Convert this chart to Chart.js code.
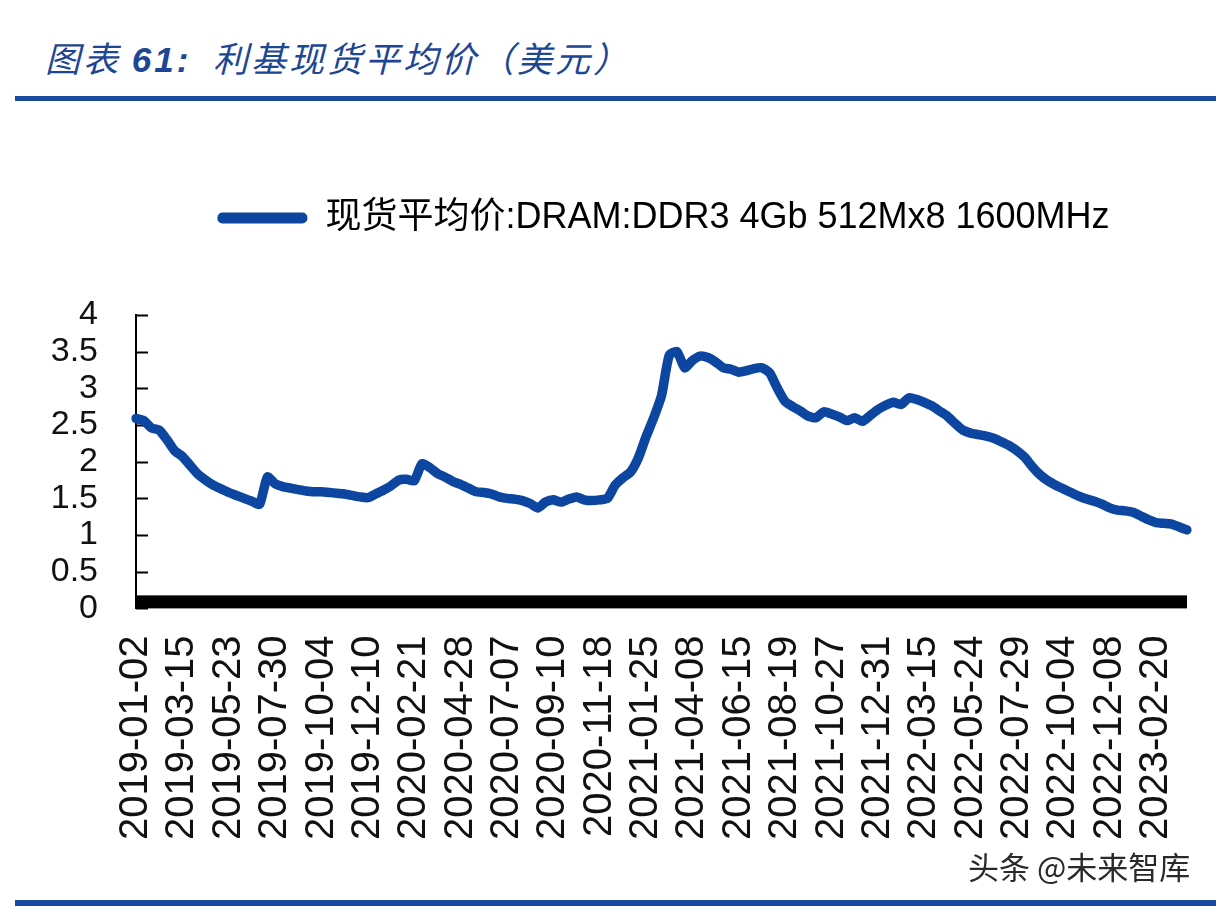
<!DOCTYPE html>
<html>
<head>
<meta charset="utf-8">
<script src="https://cdn.jsdelivr.net/npm/chart.js@4"></script>
<style>
  html, body { margin: 0; padding: 0; background: #fff; }
  body { width: 1216px; height: 906px; overflow: hidden; position: relative; }
  #title { position: absolute; left: 45px; top: 31px; font-family: "Noto Sans CJK SC", sans-serif; font-style: italic; font-size: 35px; letter-spacing: 3px; color: #1d4694; white-space: nowrap; }
  #title b { font-family: "Liberation Sans", sans-serif; }
  .rule { position: absolute; left: 15px; width: 1201px; background: #1a4a9c; }
  #watermark { position: absolute; left: 968px; top: 843px; font-family: "Noto Sans CJK SC", sans-serif; font-size: 31px; color: #2a2a2a; white-space: nowrap; }
  #wrap { position: absolute; left: 0; top: 190px; }
</style>
</head>
<body>
<div id="title">图表 <b>61:</b>&nbsp; 利基现货平均价（美元）</div>
<div class="rule" style="top:96px;height:5px"></div>
<div id="wrap"><canvas id="dramChart" width="1326" height="669"></canvas></div>
<div id="watermark">头条 @未来智库</div>
<div class="rule" style="top:900px;height:6px"></div>
<script>
// tick labels shown on the x axis, one every 6 points
var tickDates = ['2019-01-02', '2019-03-15', '2019-05-23', '2019-07-30', '2019-10-04', '2019-12-10',
  '2020-02-21', '2020-04-28', '2020-07-07', '2020-09-10', '2020-11-18', '2021-01-25',
  '2021-04-08', '2021-06-15', '2021-08-19', '2021-10-27', '2021-12-31', '2022-03-15',
  '2022-05-24', '2022-07-29', '2022-10-04', '2022-12-08', '2023-02-20']
var pointsPerTick = 6
var yTicks = [0, 0.5, 1, 1.5, 2, 2.5, 3, 3.5, 4]

// 现货平均价:DRAM:DDR3 4Gb 512Mx8 1600MHz (USD)
var spotPrice = [
  2.59, 2.56, 2.46, 2.43, 2.30, 2.15, 2.07, 1.95, 1.83, 1.75,
  1.68, 1.63, 1.58, 1.54, 1.50, 1.46, 1.42, 1.79, 1.70, 1.66,
  1.64, 1.62, 1.60, 1.59, 1.59, 1.58, 1.57, 1.56, 1.54, 1.52,
  1.51, 1.56, 1.61, 1.67, 1.75, 1.76, 1.74, 1.97, 1.92, 1.84,
  1.79, 1.73, 1.69, 1.64, 1.59, 1.58, 1.56, 1.52, 1.50, 1.49,
  1.47, 1.43, 1.37, 1.45, 1.48, 1.45, 1.49, 1.52, 1.48, 1.47,
  1.48, 1.50, 1.68, 1.78, 1.86, 2.05, 2.34, 2.60, 2.90, 3.45,
  3.50, 3.28, 3.38, 3.44, 3.42, 3.36, 3.28, 3.26, 3.22, 3.24,
  3.27, 3.28, 3.21, 3.00, 2.82, 2.75, 2.69, 2.62, 2.60, 2.68,
  2.65, 2.61, 2.56, 2.60, 2.55, 2.63, 2.71, 2.77, 2.81, 2.78,
  2.87, 2.85, 2.81, 2.76, 2.69, 2.62, 2.52, 2.43, 2.39, 2.37,
  2.35, 2.32, 2.27, 2.22, 2.15, 2.06, 1.93, 1.82, 1.74, 1.68,
  1.63, 1.58, 1.53, 1.49, 1.46, 1.42, 1.37, 1.34, 1.33, 1.31,
  1.26, 1.21, 1.17, 1.16, 1.15, 1.11, 1.07
]
var seriesName = '现货平均价:DRAM:DDR3 4Gb 512Mx8 1600MHz'
var lineColor = '#0c46a0'

var labels = spotPrice.map(function (v, i) {
  return i % pointsPerTick === 0 ? (tickDates[i / pointsPerTick] || '') : ''
})

// thick black bar on the zero line and short inward ticks on the y axis
var axisDecor = {
  id: 'axisDecor',
  beforeDatasetsDraw: function (chart) {
    var ctx = chart.ctx, x = chart.scales.x, y = chart.scales.y
    var y0 = y.getPixelForValue(0)
    ctx.save()
    ctx.fillStyle = '#000'
    ctx.fillRect(x.left - 1, y0 - 13, x.right - x.left + 1, 13)
    ctx.strokeStyle = '#000'
    ctx.lineWidth = 2
    y.ticks.forEach(function (t) {
      var py = Math.round(y.getPixelForValue(t.value)) + 0.5
      ctx.beginPath()
      ctx.moveTo(x.left, py)
      ctx.lineTo(x.left + 12, py)
      ctx.stroke()
    })
    ctx.restore()
  }
}

// extra room under the legend, and the legend centred over the plot
var legendGap = {
  id: 'legendGap',
  beforeInit: function (chart) {
    var fit = chart.legend.fit
    chart.legend.fit = function () {
      fit.bind(chart.legend)()
      this.height += 69
    }
  },
  afterLayout: function (chart) {
    chart.legend.left += 70
    chart.legend.right += 70
  }
}

new Chart(document.getElementById('dramChart'), {
  type: 'line',
  data: {
    labels: labels,
    datasets: [{
      label: seriesName,
      data: spotPrice,
      borderColor: lineColor,
      backgroundColor: lineColor,
      borderWidth: 9.5,
      pointRadius: 0,
      tension: 0.2,
      borderJoinStyle: 'round',
      borderCapStyle: 'round'
    }]
  },
  options: {
    responsive: false,
    animation: false,
    layout: { padding: { left: 0, right: 139, top: 0, bottom: 0 } },
    plugins: {
      tooltip: { enabled: false },
      legend: {
        position: 'top',
        labels: {
          boxWidth: 90,
          boxHeight: 11,
          padding: 10,
          color: '#1a1a1a',
          font: { size: 36, family: '"Liberation Sans", "Noto Sans CJK SC", sans-serif' },
          useBorderRadius: true,
          borderRadius: 5,
          generateLabels: function (chart) {
            return [{
              text: seriesName,
              fillStyle: lineColor,
              strokeStyle: lineColor,
              lineWidth: 0,
              borderRadius: 5,
              datasetIndex: 0
            }]
          }
        }
      }
    },
    scales: {
      x: {
        grid: { display: false },
        border: { display: false },
        ticks: {
          autoSkip: false,
          minRotation: 90,
          maxRotation: 90,
          padding: 19,
          color: '#111',
          font: { size: 40, family: '"Liberation Sans", sans-serif' }
        }
      },
      y: {
        min: 0,
        max: 4,
        grid: { display: false },
        border: { display: true, color: '#000', width: 2 },
        afterFit: function (s) { s.width = 136 },
        afterBuildTicks: function (s) {
          s.ticks = yTicks.map(function (v) { return { value: v } })
        },
        ticks: {
          autoSkip: false,
          padding: 30,
          color: '#111',
          font: { size: 34, family: '"Liberation Sans", sans-serif' },
          callback: function (v) { return String(v) }
        }
      }
    }
  },
  plugins: [axisDecor, legendGap]
})
</script>
</body>
</html>
